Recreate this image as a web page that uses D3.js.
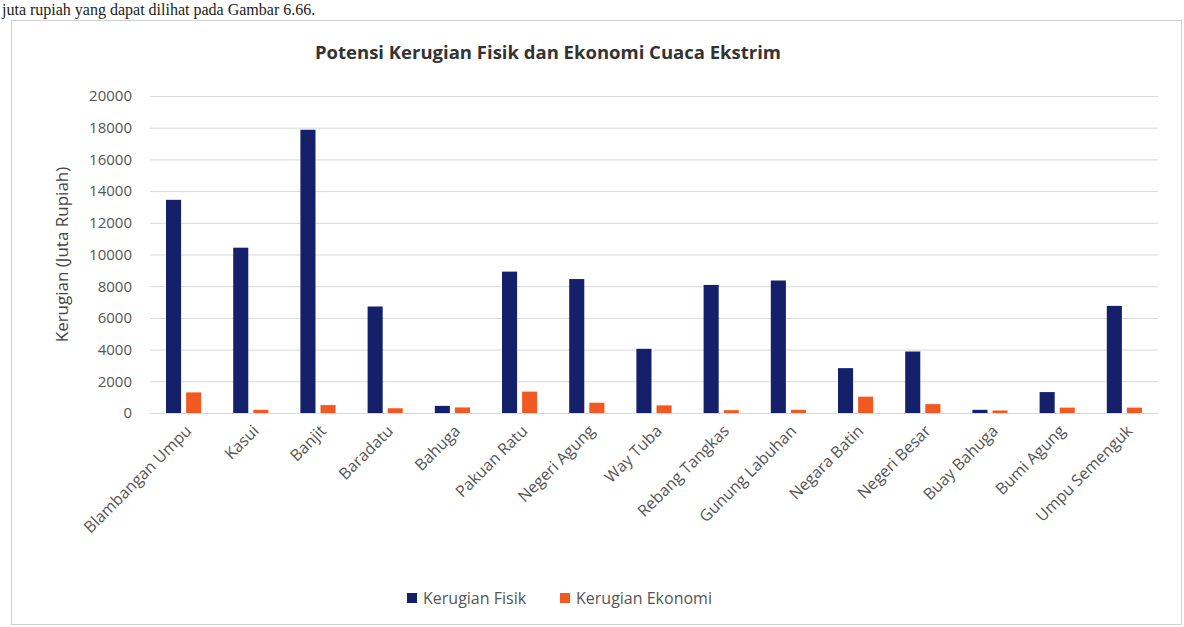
<!DOCTYPE html>
<html>
<head>
<meta charset="utf-8">
<script src="https://cdn.jsdelivr.net/npm/d3@7"></script>
<style>
  html, body { margin: 0; padding: 0; background: #fff; }
  svg { display: block; }
</style>
</head>
<body>
<div id="chart-area"></div>
<script>
// data (juta rupiah)
const districts = [
  'Blambangan Umpu', 'Kasui', 'Banjit', 'Baradatu', 'Bahuga',
  'Pakuan Ratu', 'Negeri Agung', 'Way Tuba', 'Rebang Tangkas', 'Gunung Labuhan',
  'Negara Batin', 'Negeri Besar', 'Buay Bahuga', 'Bumi Agung', 'Umpu Semenguk'
];
const kerugianFisik = [13450, 10430, 17870, 6720, 450, 8920, 8450, 4050, 8080, 8360, 2830, 3880, 200, 1320, 6760];
const kerugianEkonomi = [1300, 200, 500, 300, 350, 1350, 650, 480, 180, 200, 1030, 560, 160, 340, 340];
const yTicks = [0, 2000, 4000, 6000, 8000, 10000, 12000, 14000, 16000, 18000, 20000];
const seriesNames = ['Kerugian Fisik', 'Kerugian Ekonomi'];
const seriesColors = ['#14206a', '#f05a22'];

const width = 1184;
const height = 627;
const margin = { left: 150, right: 26, top: 96, bottom: 214 };
const innerW = width - margin.left - margin.right;
const innerH = height - margin.top - margin.bottom;
const font = '"Open Sans", "Noto Sans", sans-serif';

const svg = d3.select('#chart-area').append('svg')
  .attr('width', width)
  .attr('height', height);

// text line of the document page above the figure
svg.append('text')
  .text('juta rupiah yang dapat dilihat pada Gambar 6.66.')
  .attr('x', 2)
  .attr('y', 15)
  .attr('font-family', '"Liberation Serif", "DejaVu Serif", serif')
  .attr('font-size', '16px')
  .attr('fill', '#222');

// chart area frame
svg.append('rect')
  .attr('x', 11.5)
  .attr('y', 20.5)
  .attr('width', 1170)
  .attr('height', 604)
  .attr('fill', 'none')
  .attr('stroke', '#d0d0d0');

svg.append('text')
  .text('Potensi Kerugian Fisik dan Ekonomi Cuaca Ekstrim')
  .attr('x', 548)
  .attr('y', 59)
  .attr('text-anchor', 'middle')
  .attr('font-family', font)
  .attr('font-size', '18.5px')
  .attr('font-weight', 'bold')
  .attr('fill', '#333');

const g = svg.append('g')
  .attr('transform', `translate(${margin.left}, ${margin.top})`);

const scaleX = d3.scaleBand()
  .domain(districts)
  .range([0, innerW])
  .paddingInner(0)
  .paddingOuter(0);

const scaleSeries = d3.scaleBand()
  .domain(seriesNames)
  .range([16, scaleX.bandwidth() - 16])
  .paddingInner(0.25);

const scaleY = d3.scaleLinear()
  .domain([0, 20000])
  .range([innerH, 0]);

const axisY = d3.axisLeft(scaleY)
  .tickValues(yTicks)
  .tickFormat(d3.format('d'))
  .tickSize(-innerW)
  .tickPadding(18);

const yAxis = g.append('g')
  .attr('class', 'y axis')
  .call(axisY);
yAxis.select('.domain').remove();
yAxis.selectAll('line').attr('stroke', '#d9d9d9');
yAxis.selectAll('text')
  .attr('font-family', font)
  .attr('font-size', '15px')
  .attr('fill', '#555');

const axisX = d3.axisBottom(scaleX).tickSize(0).tickPadding(0);
const xAxis = g.append('g')
  .attr('class', 'x axis')
  .attr('transform', `translate(0, ${innerH})`)
  .call(axisX);
xAxis.select('.domain').attr('stroke', '#d9d9d9');
xAxis.selectAll('text')
  .attr('font-family', font)
  .attr('font-size', '16px')
  .attr('fill', '#555')
  .attr('x', 0)
  .attr('y', 0)
  .attr('dy', '0.35em')
  .attr('text-anchor', 'end')
  .attr('transform', 'translate(5, 15) rotate(-45)');

g.append('text')
  .text('Kerugian (Juta Rupiah)')
  .attr('x', -innerH / 2)
  .attr('y', -82)
  .attr('transform', 'rotate(-90)')
  .attr('text-anchor', 'middle')
  .attr('font-family', font)
  .attr('font-size', '17px')
  .attr('fill', '#444');

const rows = districts.map((d, i) => ({
  name: d,
  values: [kerugianFisik[i], kerugianEkonomi[i]]
}));

const groups = g.selectAll('.group')
  .data(rows)
  .enter().append('g')
    .attr('class', 'group')
    .attr('transform', d => `translate(${scaleX(d.name)}, 0)`);

groups.selectAll('rect')
  .data(d => d.values.map((v, j) => ({ key: seriesNames[j], value: v, j })))
  .enter().append('rect')
    .attr('x', d => scaleSeries(d.key))
    .attr('y', d => scaleY(d.value))
    .attr('width', scaleSeries.bandwidth())
    .attr('height', d => innerH - scaleY(d.value))
    .attr('fill', d => seriesColors[d.j]);

// legend
const legend = svg.append('g')
  .attr('transform', 'translate(407, 598)');

const legendItems = legend.selectAll('g')
  .data(seriesNames)
  .enter().append('g')
    .attr('transform', (d, i) => `translate(${i * 153}, 0)`);

legendItems.append('rect')
  .attr('x', 0)
  .attr('y', -5)
  .attr('width', 10)
  .attr('height', 10)
  .attr('fill', (d, i) => seriesColors[i]);

legendItems.append('text')
  .text(d => d)
  .attr('x', 16)
  .attr('y', 0)
  .attr('dy', '0.35em')
  .attr('font-family', font)
  .attr('font-size', '16px')
  .attr('fill', '#555');
</script>
</body>
</html>
